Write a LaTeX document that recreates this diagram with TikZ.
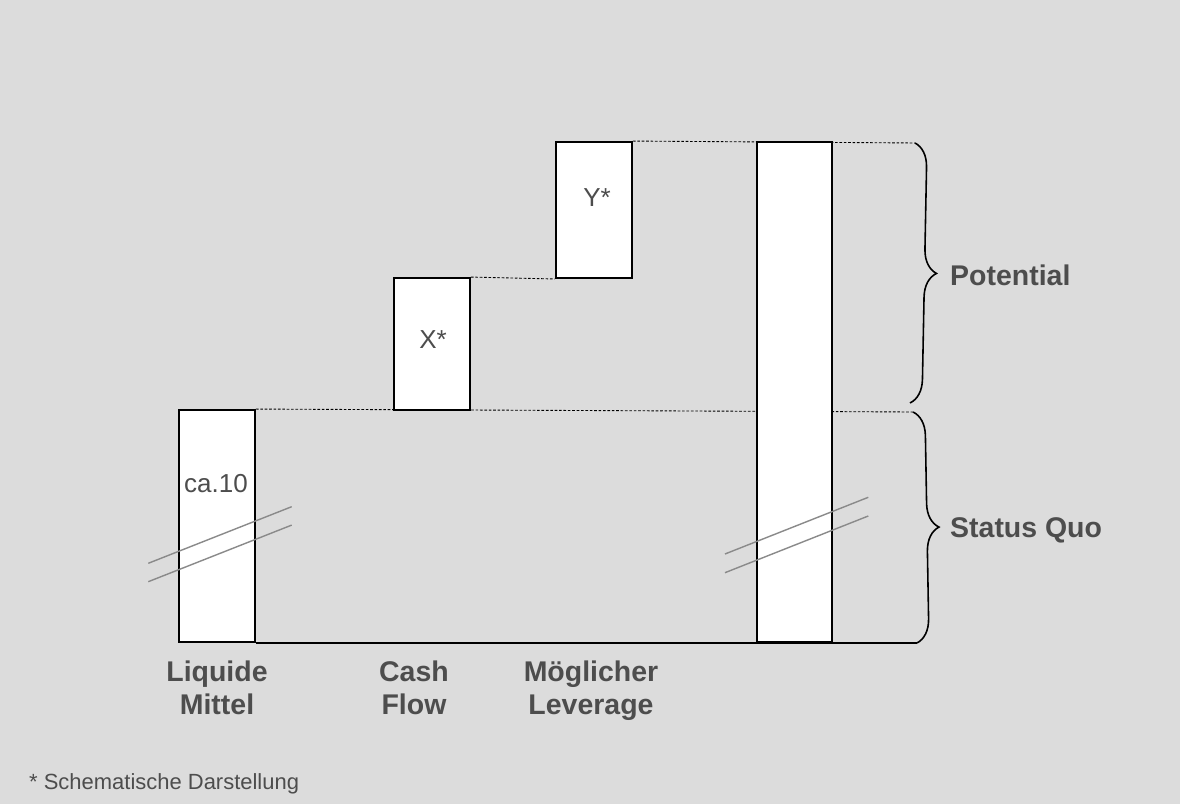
\documentclass[tikz,border=0pt]{standalone}
\usepackage{fontspec}
\setmainfont{Liberation Sans}
\usepackage{tikz}
\usetikzlibrary{positioning,backgrounds,decorations.pathreplacing}
\usepackage{xcolor}
\definecolor{bggray}{HTML}{DCDCDC}
\definecolor{txtgray}{HTML}{4D4D4D}
\definecolor{brkgray}{HTML}{8A8A8A}
\newcommand{\lstrut}{\vphantom{Ög}}

\begin{document}
\begin{tikzpicture}[
    bar/.style={draw, line width=1.1pt, fill=white, minimum width=1.52cm, inner sep=0pt, anchor=south west},
    guide/.style={line width=0.5pt, dash pattern=on 1.5pt off 1pt},
    brk/.style={draw=brkgray, line width=0.8pt},
    curly/.style={line width=0.9pt, decorate, decoration={brace, amplitude=0.48cm}},
    lbl/.style={text=txtgray, align=center, font=\bfseries\fontsize{16.2}{18.4}\selectfont},
    val/.style={text=txtgray, font=\fontsize{14.8}{17}\selectfont}]
    \useasboundingbox (0,0) rectangle (23.6,16.08);

    % bars
    \node[bar, minimum height=4.64cm] (liq) at (3.56,3.22) {};
    \node[bar, minimum height=2.64cm] (cf) at (7.86,7.86) {};
    \node[bar, minimum height=2.72cm] (lev) at (11.1,10.5) {};
    \node[bar, minimum height=10cm, minimum width=1.5cm] (total) at (15.12,3.22) {};

    % brace ends
    \coordinate (potTop) at (18.3,13.22);
    \coordinate (potBot) at (18.2,8.02);
    \coordinate (sqTop) at (18.26,7.84);
    \coordinate (sqBot) at (18.34,3.22);

    \begin{scope}[on background layer]
        \fill[bggray] (0,0) rectangle (23.6,16.08);
        \draw[guide] (liq.north east) -- (sqTop);
        \draw[guide] (cf.north east) -- (lev.south west);
        \draw[guide] (lev.north east) -- (potTop);
        \draw[line width=1.1pt] (liq.south east) -- (sqBot);
    \end{scope}

    % values
    \node[val] (vliq) at (4.32,6.4) {ca.10};
    \node[val] (vcf) at (8.66,9.28) {X*};
    \node[val] (vlev) at (11.94,12.12) {Y*};

    % break marks
    \draw[brk] (2.966,4.814) -- (5.834,5.946);
    \draw[brk] (2.966,4.446) -- (5.834,5.578);
    \draw[brk] (14.5,5.0) -- (17.366,6.134);
    \draw[brk] (14.5,4.626) -- (17.366,5.76);

    % braces
    \draw[curly] (potTop) -- (potBot);
    \draw[curly] (sqTop) -- (sqBot);
    \node[lbl, anchor=west] (pot) at (18.88,10.58) {Potential};
    \node[lbl, anchor=west] (sq) at (18.88,5.48) {Status Quo};

    % axis labels
    \node[lbl] (lliq) at (4.34,2.3) {\lstrut Liquide\\\lstrut Mittel};
    \node[lbl] (lcf) at (8.28,2.3) {\lstrut Cash\\\lstrut Flow};
    \node[lbl] (llev) at (11.82,2.3) {\lstrut Möglicher\\\lstrut Leverage};

    \node[text=txtgray, anchor=west, font=\fontsize{12.5}{15}\selectfont] (note) at (0.46,0.4) {* Schematische Darstellung};
\end{tikzpicture}
\end{document}
